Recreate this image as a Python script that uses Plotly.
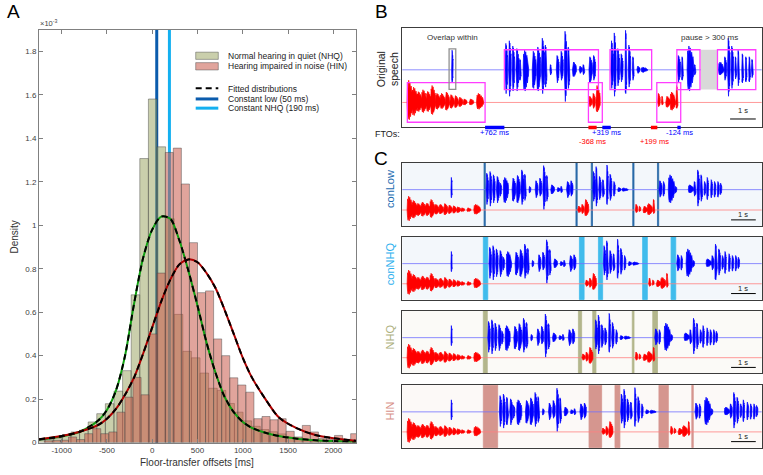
import plotly.graph_objects as go

W, H = 763, 475
FONT = "Liberation Sans, Arial, Helvetica, sans-serif"

# ---------------- Panel A data (density in units of 1e-3) ----------------
nhq_bin_start = -1277
nhq_bin_width = 95
nhq_density = [0.011, 0.015, 0.021, 0.037, 0.049, 0.057, 0.095, 0.133, 0.179, 0.237, 0.331, 0.680,
               1.307, 1.581, 1.361, 1.030, 0.590, 0.420, 0.390, 0.320, 0.250, 0.240, 0.180, 0.140,
               0.100, 0.075, 0.060, 0.050, 0.040, 0.025, 0.020, 0.015, 0.010, 0.008, 0.006, 0.006, 0.004]
hin_bin_start = -1191
hin_bin_width = 89
hin_density = [0.008, 0.010, 0.011, 0.026, 0.014, 0.041, 0.064, 0.041, 0.049, 0.140, 0.209, 0.300, 0.220,
               0.500, 0.780, 1.335, 1.355, 1.190, 0.920, 0.690, 0.698, 0.477, 0.400, 0.298, 0.265, 0.232,
               0.110, 0.120, 0.105, 0.110, 0.052, 0.026, 0.079, 0.049, 0.020, 0.015, 0.033, 0.015, 0.041]
fit_x = [-1250, -1000, -800, -600, -500, -400, -300, -200, -100, 0, 100, 200, 300, 400, 500,
         600, 700, 800, 900, 1000, 1100, 1250, 1400, 1600, 1800, 2000, 2250]
nhq_fit = [0.014, 0.028, 0.050, 0.100, 0.150, 0.240, 0.400, 0.640, 0.850, 0.980, 1.040, 1.030, 0.930,
           0.790, 0.630, 0.460, 0.320, 0.210, 0.140, 0.095, 0.068, 0.045, 0.030, 0.018, 0.011, 0.007, 0.004]
hin_fit = [0.015, 0.030, 0.050, 0.080, 0.110, 0.155, 0.220, 0.300, 0.410, 0.530, 0.650, 0.750, 0.820,
           0.843, 0.830, 0.780, 0.710, 0.610, 0.500, 0.390, 0.300, 0.200, 0.115, 0.065, 0.035, 0.020, 0.008]
const_low_ms = 50
const_nhq_ms = 190
x_ticks = [-1000, -500, 0, 500, 1000, 1500, 2000]
y_ticks = [0, 0.2, 0.4, 0.6, 0.8, 1.0, 1.2, 1.4, 1.6, 1.8]
legend_labels = ["Normal hearing in quiet (NHQ)", "Hearing impaired in noise (HIN)",
                 "Fitted distributions", "Constant low (50 ms)", "Constant NHQ (190 ms)"]

# ---------------- Waveform data (bursts: rel. time s, half width s, amp up, amp down) ----------------
red1 = [(0.110, 0.12, 0.68, 0.53), (0.300, 0.12, 0.47, 0.40), (0.480, 0.11, 0.33, 0.28), (0.660, 0.11, 0.39, 0.31),
        (0.840, 0.10, 0.34, 0.28), (1.010, 0.10, 0.52, 0.37), (1.200, 0.10, 0.28, 0.21), (1.380, 0.10, 0.28, 0.19),
        (1.560, 0.09, 0.32, 0.24), (1.740, 0.09, 0.24, 0.18), (1.910, 0.08, 0.21, 0.16), (2.080, 0.09, 0.16, 0.13),
        (2.250, 0.08, 0.11, 0.08), (2.500, 0.09, 0.11, 0.08), (2.830, 0.14, 0.28, 0.21)]
spike = [(0.0, 0.03, 0.60, 0.40)]
blue1 = [(0.054, 0.054, 0.81, 0.73), (0.189, 0.054, 0.89, 0.81), (0.324, 0.054, 0.73, 0.65), (0.486, 0.067, 0.65, 0.65),
         (0.594, 0.040, 0.32, 0.32), (0.810, 0.110, 0.60, 0.65), (1.134, 0.080, 0.57, 0.57), (1.310, 0.080, 0.70, 0.65),
         (1.480, 0.070, 0.97, 0.73), (1.590, 0.050, 0.76, 0.53), (1.780, 0.040, 0.16, 0.16), (2.050, 0.060, 0.44, 0.40),
         (2.210, 0.060, 0.57, 0.32), (2.360, 0.060, 1.18, 0.97), (2.480, 0.050, 0.70, 0.57), (2.700, 0.080, 0.24, 0.21),
         (2.940, 0.060, 0.11, 0.11), (3.060, 0.050, 0.16, 0.15), (3.330, 0.070, 0.40, 0.40), (3.470, 0.060, 0.44, 0.32)]
red2 = [(0.081, 0.07, 0.19, 0.13), (0.216, 0.06, 0.28, 0.18), (0.378, 0.09, 0.52, 0.29)]
blue2 = [(0.054, 0.054, 0.89, 0.57), (0.162, 0.054, 1.13, 0.81), (0.297, 0.054, 0.65, 0.49), (0.432, 0.054, 0.49, 0.37),
         (0.594, 0.040, 1.21, 0.73), (0.729, 0.054, 0.76, 0.53), (0.877, 0.040, 0.40, 0.32), (1.080, 0.067, 0.11, 0.11),
         (1.310, 0.130, 0.08, 0.08)]
red3 = [(0.067, 0.054, 0.28, 0.13), (0.200, 0.040, 0.19, 0.08), (0.418, 0.090, 0.19, 0.15), (0.607, 0.110, 0.32, 0.24),
        (0.770, 0.045, 0.52, 0.18)]
blue3 = [(0.067, 0.067, 0.44, 0.37), (0.202, 0.040, 0.40, 0.32), (0.513, 0.135, 0.73, 0.65), (0.688, 0.040, 0.16, 0.16)]
blue4 = [(0.108, 0.108, 0.24, 0.16), (0.270, 0.054, 0.40, 0.32), (0.405, 0.054, 0.97, 0.81), (0.540, 0.054, 0.73, 0.57),
         (0.675, 0.040, 0.40, 0.28), (0.783, 0.040, 0.60, 0.49), (0.945, 0.040, 0.49, 0.40), (1.080, 0.040, 0.40, 0.37),
         (1.215, 0.040, 0.40, 0.37), (1.320, 0.040, 0.32, 0.24)]
segment_order = ["red1", "spike", "blue1", "red2", "blue2", "red3", "blue3", "blue4"]

# onsets (s) of each segment per panel
onsets_B = [0.196, 1.95, 4.00, 7.24, 8.11, 9.92, 10.70, 12.30]
onsets_conLow = [0.204, 2.00, 3.39, 7.09, 7.71, 9.42, 10.39, 11.58]
onsets_conNHQ = [0.204, 2.00, 3.51, 7.40, 8.14, 9.96, 11.11, 12.30]
onsets_NHQ = [0.204, 2.00, 3.46, 7.26, 7.80, 9.42, 10.22, 11.41]
onsets_HIN = [0.204, 2.00, 3.93, 8.07, 8.84, 10.84, 11.85, 13.04]

# inserted floor-transfer gaps per panel (start, end) s
gaps_conLow = [(3.31, 3.36), (7.03, 7.08), (7.65, 7.70), (9.33, 9.38), (10.33, 10.38)]
gaps_conNHQ = [(3.28, 3.46), (7.17, 7.36), (7.94, 8.11), (9.73, 9.92), (10.88, 11.07)]
gaps_NHQ = [(3.28, 3.44), (7.13, 7.26), (7.71, 7.84), (9.31, 9.38), (10.14, 10.33)]
gaps_HIN = [(3.28, 3.86), (7.56, 8.07), (8.61, 8.81), (10.39, 10.77), (11.72, 11.78)]

# panel B annotation data
turn_boxes_red = [(0.196, 3.22), (7.24, 7.78), (9.90, 10.83)]
turn_boxes_blue = [(3.97, 7.63), (8.08, 9.70), (10.68, 11.58), (12.26, 13.75)]
overlap_box = (1.82, 2.08)
pause_region = (11.61, 12.26)
fto_labels = ["+762 ms", "-368 ms", "+319 ms", "+199 ms", "-124 ms"]
fto_start = [3.22, 7.24, 7.78, 9.67, 10.70]
fto_end = [3.97, 7.56, 8.11, 9.92, 10.83]
fto_speaker = ["blue", "red", "blue", "red", "blue"]

# ---------------- helpers ----------------
def px(x):
    return x / W

def py(y):
    return 1 - y / H

SEGS = {"red1": red1, "spike": spike, "blue1": blue1, "red2": red2, "blue2": blue2,
        "red3": red3, "blue3": blue3, "blue4": blue4}

# fixed drawing template for one burst outline (jagged envelope)
TPL_U = [0.0, 0.08, 0.16, 0.26, 0.36, 0.46, 0.56, 0.66, 0.76, 0.86, 0.94, 1.0]
TPL_UP = [0.0, 0.8, 0.65, 1.0, 0.78, 0.92, 0.62, 0.74, 0.48, 0.55, 0.28, 0.0]
TPL_DN = [0.0, 0.7, 0.95, 0.72, 1.0, 0.68, 0.82, 0.5, 0.62, 0.35, 0.3, 0.0]


def burst_poly(t0, y0, b):
    c, hw, up, dn = b
    left = c + t0 - hw
    xs_u = [left + 2 * hw * u for u in TPL_U]
    ys_u = [y0 + up * e for e in TPL_UP]
    xs_d = [left + 2 * hw * u for u in reversed(TPL_U)]
    ys_d = [y0 - dn * e for e in reversed(TPL_DN)]
    return xs_u + xs_d, ys_u + ys_d

fig = go.Figure()
shapes = []
annotations = []

# ---------------- Panel A ----------------
NHQ_FILL = "rgba(150,160,90,0.5)"
HIN_FILL = "rgba(200,90,75,0.55)"
EDGE = "rgba(70,70,70,0.75)"
nhq_centers = [nhq_bin_start + nhq_bin_width * (i + 0.5) for i in range(len(nhq_density))]
hin_centers = [hin_bin_start + hin_bin_width * (i + 0.5) for i in range(len(hin_density))]
fig.add_trace(go.Bar(x=nhq_centers, y=nhq_density, width=nhq_bin_width, xaxis="x", yaxis="y",
                     marker=dict(color=NHQ_FILL, line=dict(color=EDGE, width=0.6)), showlegend=False))
fig.add_trace(go.Bar(x=hin_centers, y=hin_density, width=hin_bin_width, xaxis="x", yaxis="y",
                     marker=dict(color=HIN_FILL, line=dict(color=EDGE, width=0.6)), showlegend=False))
for fit, col in ((nhq_fit, "#12a012"), (hin_fit, "#b00000")):
    fig.add_trace(go.Scatter(x=fit_x, y=fit, mode="lines", xaxis="x", yaxis="y", showlegend=False,
                             line=dict(color=col, width=2, shape="spline", smoothing=0.8)))
    fig.add_trace(go.Scatter(x=fit_x, y=fit, mode="lines", xaxis="x", yaxis="y", showlegend=False,
                             line=dict(color="black", width=2, dash="6px,4px", shape="spline", smoothing=0.8)))

DARK_BLUE = "#0b5cad"
LIGHT_BLUE = "#14b0f0"
for v, col in ((const_low_ms, DARK_BLUE), (const_nhq_ms, LIGHT_BLUE)):
    shapes.append(dict(type="line", xref="x", yref="y domain", x0=v, x1=v, y0=0, y1=1,
                       line=dict(color=col, width=3), layer="below"))

# legend (manual)
lx0, lx1 = 195.7, 218.3
shapes.append(dict(type="rect", xref="paper", yref="paper", x0=px(lx0), x1=px(lx1), y0=py(60), y1=py(52.7),
                   fillcolor=NHQ_FILL, line=dict(color=EDGE, width=0.6)))
shapes.append(dict(type="rect", xref="paper", yref="paper", x0=px(lx0), x1=px(lx1), y0=py(70.7), y1=py(63.3),
                   fillcolor=HIN_FILL, line=dict(color=EDGE, width=0.6)))
shapes.append(dict(type="line", xref="paper", yref="paper", x0=px(lx0), x1=px(lx1), y0=py(89.3), y1=py(89.3),
                   line=dict(color="black", width=2, dash="6px,4px")))
shapes.append(dict(type="line", xref="paper", yref="paper", x0=px(lx0), x1=px(lx1), y0=py(100), y1=py(100),
                   line=dict(color=DARK_BLUE, width=3)))
shapes.append(dict(type="line", xref="paper", yref="paper", x0=px(lx0), x1=px(lx1), y0=py(109.3), y1=py(109.3),
                   line=dict(color=LIGHT_BLUE, width=3)))
for lab, yy in zip(legend_labels, [56.5, 67, 89.5, 100, 109.5]):
    annotations.append(dict(text=lab, xref="paper", yref="paper", x=px(226), y=py(yy), xanchor="left",
                            yanchor="middle", showarrow=False, font=dict(size=8.5, color="#222", family=FONT)))

annotations.append(dict(text="×10<sup>-3</sup>", xref="paper", yref="paper", x=px(38), y=py(23),
                        xanchor="left", yanchor="middle", showarrow=False,
                        font=dict(size=7.5, color="#444", family=FONT)))
annotations.append(dict(text="Density", xref="paper", yref="paper", x=px(14), y=py(240), textangle=-90,
                        xanchor="center", yanchor="middle", showarrow=False,
                        font=dict(size=10, color="#333", family=FONT)))
annotations.append(dict(text="Floor-transfer offsets [ms]", xref="paper", yref="paper", x=px(197), y=py(467),
                        xanchor="center", yanchor="middle", showarrow=False,
                        font=dict(size=10, color="#333", family=FONT)))

# panel letters
for lab, xx, yy in (("A", 13, 12), ("B", 381, 12), ("C", 381, 160)):
    annotations.append(dict(text=lab, xref="paper", yref="paper", x=px(xx), y=py(yy), xanchor="center",
                            yanchor="middle", showarrow=False, font=dict(size=19, color="black", family=FONT)))

# ---------------- Waveform panels ----------------
def add_wave(onsets, xa, ya, shapes):
    blue_x, blue_y, red_x, red_y = [], [], [], []
    for name, t0 in zip(segment_order, onsets):
        is_red = name.startswith("red")
        y0 = 0.0 if is_red else 1.0
        for b in SEGS[name]:
            xs, ys = burst_poly(t0, y0, b)
            if is_red:
                red_x += xs + [None]
                red_y += ys + [None]
            else:
                blue_x += xs + [None]
                blue_y += ys + [None]
    shapes.append(dict(type="line", xref=xa + " domain", yref=ya, x0=0, x1=1, y0=1, y1=1,
                       line=dict(color="#7070ff", width=0.8), layer="below"))
    shapes.append(dict(type="line", xref=xa + " domain", yref=ya, x0=0, x1=1, y0=0, y1=0,
                       line=dict(color="#ff8080", width=0.8), layer="below"))
    fig.add_trace(go.Scatter(x=red_x, y=red_y, mode="lines", fill="toself", fillcolor="#ff0000",
                             line=dict(color="#ff0000", width=0.7), xaxis=xa, yaxis=ya, showlegend=False))
    fig.add_trace(go.Scatter(x=blue_x, y=blue_y, mode="lines", fill="toself", fillcolor="#0000ff",
                             line=dict(color="#0000ff", width=0.7), xaxis=xa, yaxis=ya, showlegend=False))

# Panel B
shapes.append(dict(type="rect", xref="x2", yref="y2", x0=pause_region[0], x1=pause_region[1], y0=0.40, y1=1.615,
                   fillcolor="#d9d9d9", line=dict(width=0), layer="below"))
add_wave(onsets_B, "x2", "y2", shapes)
for a, b in turn_boxes_red:
    shapes.append(dict(type="rect", xref="x2", yref="y2", x0=a, x1=b, y0=-0.606, y1=0.606,
                       line=dict(color="#ff3cff", width=1.3)))
for a, b in turn_boxes_blue:
    shapes.append(dict(type="rect", xref="x2", yref="y2", x0=a, x1=b, y0=0.394, y1=1.615,
                       line=dict(color="#ff3cff", width=1.3)))
shapes.append(dict(type="rect", xref="x2", yref="y2", x0=overlap_box[0], x1=overlap_box[1], y0=0.40, y1=1.64,
                   line=dict(color="#909090", width=1.3)))
annotations.append(dict(text="Overlap within", xref="x2", yref="paper", x=1.95, y=py(37.5), showarrow=False,
                        xanchor="center", yanchor="middle", font=dict(size=8, color="#333", family=FONT)))
annotations.append(dict(text="pause > 300 ms", xref="x2", yref="paper", x=11.95, y=py(37.5), showarrow=False,
                        xanchor="center", yanchor="middle", font=dict(size=8, color="#333", family=FONT)))
# scale bar B
shapes.append(dict(type="line", xref="x2", yref="y2", x0=12.75, x1=13.75, y0=-0.506, y1=-0.506,
                   line=dict(color="black", width=1)))
annotations.append(dict(text="1 s", xref="x2", yref="y2", x=13.25, y=-0.24, showarrow=False,
                        font=dict(size=7.5, color="#222", family=FONT)))
# FTOs
for lab, a, b, spk in zip(fto_labels, fto_start, fto_end, fto_speaker):
    col = "#0000ff" if spk == "blue" else "#ff0000"
    shapes.append(dict(type="line", xref="x2", yref="paper", x0=a, x1=b, y0=py(128.8), y1=py(128.8),
                       line=dict(color=col, width=3.5)))
    yy = 134.3 if spk == "blue" else 143
    annotations.append(dict(text=lab, xref="x2", yref="paper", x=(a + b) / 2, y=py(yy), showarrow=False,
                            xanchor="center", yanchor="middle", font=dict(size=7.5, color=col, family=FONT)))
annotations.append(dict(text="FTOs:", xref="paper", yref="paper", x=px(387), y=py(135), showarrow=False,
                        xanchor="center", yanchor="middle", font=dict(size=9, color="#222", family=FONT)))
annotations.append(dict(text="Original<br>speech", xref="paper", yref="paper", x=px(388), y=py(70),
                        textangle=-90, showarrow=False, xanchor="center", yanchor="middle",
                        font=dict(size=10.5, color="#222", family=FONT)))

# Panels C
c_panels = [
    ("conLow", "x3", "y3", onsets_conLow, gaps_conLow, "#1d6bb0", "#2a6aa8", "#f3f7fb", 191),
    ("conNHQ", "x4", "y4", onsets_conNHQ, gaps_conNHQ, "#2db0ee", "#40bcec", "#f3f7fb", 267),
    ("NHQ", "x5", "y5", onsets_NHQ, gaps_NHQ, "#adb07e", "#b3b68c", "#fbfaf7", 341),
    ("HIN", "x6", "y6", onsets_HIN, gaps_HIN, "#d89088", "#d5968f", "#fcf9f7", 416),
]
for name, xa, ya, ons, gaps, lab_col, gap_col, bg, ly in c_panels:
    shapes.append(dict(type="rect", xref=xa + " domain", yref=ya + " domain", x0=0, x1=1, y0=0, y1=1,
                       fillcolor=bg, line=dict(width=0), layer="below"))
    for a, b in gaps:
        shapes.append(dict(type="rect", xref=xa, yref=ya + " domain", x0=a, x1=b, y0=0, y1=1,
                           fillcolor=gap_col, line=dict(color=gap_col, width=0.8), layer="below"))
    add_wave(ons, xa, ya, shapes)
    shapes.append(dict(type="line", xref=xa, yref=ya, x0=13.31, x1=14.31, y0=-0.485, y1=-0.485,
                       line=dict(color="black", width=1)))
    annotations.append(dict(text="1 s", xref=xa, yref=ya, x=13.81, y=-0.22, showarrow=False,
                            font=dict(size=7.5, color="#222", family=FONT)))
    annotations.append(dict(text=name, xref="paper", yref="paper", x=px(390), y=py(ly), textangle=-90,
                            showarrow=False, xanchor="center", yanchor="middle",
                            font=dict(size=11, color=lab_col, family=FONT)))

# ---------------- Layout ----------------
def frame_axis(domain, rng, anchor):
    return dict(domain=domain, range=rng, anchor=anchor, showticklabels=False, ticks="", showgrid=False,
                zeroline=False, showline=True, mirror=True, linecolor="#3c3c3c", linewidth=1.3,
                fixedrange=True)

BX = [px(402.3), px(761.7)]
layout = dict(
    width=W, height=H, margin=dict(l=0, r=0, t=0, b=0),
    paper_bgcolor="white", plot_bgcolor="rgba(0,0,0,0)",
    barmode="overlay", showlegend=False,
    font=dict(family=FONT),
    xaxis=dict(domain=[px(39), px(356)], range=[-1250, 2250], anchor="y", tickvals=x_ticks,
               ticktext=[str(v) for v in x_ticks], ticks="inside", ticklen=4, tickcolor="#808080",
               showline=True, linecolor="#808080", linewidth=1, mirror="ticks", showgrid=False,
               zeroline=False, tickfont=dict(size=8, color="#404040"), fixedrange=True),
    yaxis=dict(domain=[py(447.3), py(30)], range=[0, 1.9], anchor="x", tickvals=y_ticks,
               ticktext=[f"{v:g}" for v in y_ticks], ticks="inside", ticklen=4, tickcolor="#808080",
               showline=True, linecolor="#808080", linewidth=1, mirror="ticks", showgrid=False,
               zeroline=False, tickfont=dict(size=8, color="#404040"), fixedrange=True),
    xaxis2=frame_axis(BX, [0, 13.98], "y2"),
    yaxis2=frame_axis([py(128.3), py(28)], [-0.75, 2.29], "x2"),
    xaxis3=frame_axis(BX, [0, 14.55], "y3"),
    yaxis3=frame_axis([py(228.3), py(164.3)], [-0.78, 2.33], "x3"),
    xaxis4=frame_axis(BX, [0, 14.55], "y4"),
    yaxis4=frame_axis([py(302.7), py(239.3)], [-0.78, 2.33], "x4"),
    xaxis5=frame_axis(BX, [0, 14.55], "y5"),
    yaxis5=frame_axis([py(377.3), py(314.3)], [-0.78, 2.33], "x5"),
    xaxis6=frame_axis(BX, [0, 14.55], "y6"),
    yaxis6=frame_axis([py(452.3), py(389.3)], [-0.78, 2.33], "x6"),
    shapes=shapes,
    annotations=annotations,
)
fig.update_layout(**layout)
fig.write_html("out.html")
